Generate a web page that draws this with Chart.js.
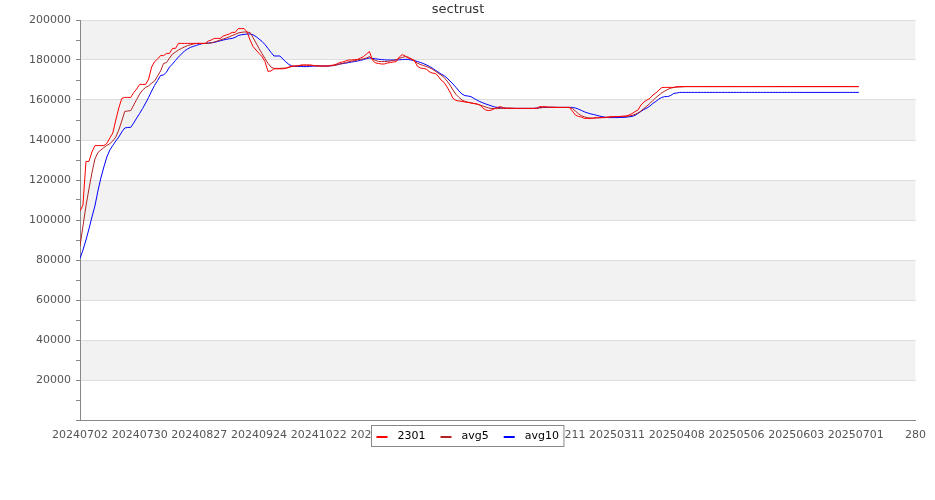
<!DOCTYPE html>
<html>
<head>
<meta charset="utf-8">
<script src="https://cdn.jsdelivr.net/npm/chart.js@4/dist/chart.umd.min.js"></script>
<style>
  html, body { margin: 0; padding: 0; background: #fff; }
  #chart { display: block; }
</style>
</head>
<body>
<canvas id="chart" width="935" height="500"></canvas>
<script>
// x axis: one tick every 20 trading days
const xLabels = ['20240702', '20240730', '20240827', '20240924', '20241022', '20241119', '20241217',
                 '20250114', '20250211', '20250311', '20250408', '20250506', '20250603', '20250701'];

const seriesNames = ['2301', 'avg5', 'avg10'];

const s2301 = [
  104500, 107500, 129300, 129300, 134000, 137200, 137200, 137200, 137200, 138300,
  141000, 143500, 150000, 156000, 160800, 161300, 161300, 161300, 163700, 165500,
  167800, 167800, 167800, 170500, 176500, 179200, 180500, 182200, 182200, 183300,
  183300, 185800, 185800, 188300, 188300, 188300, 188300, 188300, 188300, 188300,
  188300, 188300, 188300, 189500, 190000, 190800, 190800, 190800, 192000, 192500,
  193000, 193800, 193800, 195700, 195700, 195700, 194000, 190000, 186700, 185000,
  183300, 181700, 179200, 174300, 174500, 175600, 175600, 175600, 175600, 175800,
  176500, 177000, 177000, 177000, 177500, 177500, 177500, 177500, 177300, 177000,
  177000, 177000, 177000, 177000, 177300, 177500, 178000, 178700, 179000, 179500,
  180000, 180000, 180200, 180300, 181000, 181700, 183000, 184200, 180000, 178500,
  178300, 178000, 178000, 178500, 178700, 179000, 179200, 181500, 182700, 182000,
  181000, 180500, 180000, 177000, 176000, 175800, 175500, 174200, 173500, 173300,
  172000, 170000, 168800, 166500, 164000, 160800, 159800, 159500, 159300, 159000,
  158800, 158500, 158200, 158000, 157500, 156000, 155000, 154700, 155000, 155800,
  156300, 156700, 156000, 155800, 155800, 155800, 155800, 155800, 155800, 155800,
  155800, 155800, 155800, 155800, 156700, 156700, 156700, 156300, 156300, 156300,
  156300, 156300, 156300, 156300, 156300, 154500, 152500, 151800, 151500, 150800,
  150800, 150700, 151000, 151200, 151200, 151200, 151200, 151500, 151700, 151700,
  151700, 151800, 151900, 152000, 152500, 153200, 154200, 155000, 157500, 159000,
  160000, 160800, 162500, 163500, 165000, 166200, 166300, 166300, 166300, 166300,
  166700, 166700, 166700, 166700, 166700, 166700, 166700, 166700, 166700, 166700,
  166700, 166700, 166700, 166700, 166700, 166700, 166700, 166700, 166700, 166700,
  166700, 166700, 166700, 166700, 166700, 166700, 166700, 166700, 166700, 166700,
  166700, 166700, 166700, 166700, 166700, 166700, 166700, 166700, 166700, 166700,
  166700, 166700, 166700, 166700, 166700, 166700, 166700, 166700, 166700, 166700,
  166700, 166700, 166700, 166700, 166700, 166700, 166700, 166700, 166700, 166700,
  166700, 166700
];

const avg5 = [
  87000, 97000, 107000, 115500, 123500, 130500, 133700, 135000, 136200, 137300,
  138200, 139500, 141500, 145000, 149500, 154300, 154500, 154700, 157500, 160300,
  163000, 165000, 166300, 167000, 168500, 169500, 172000, 174500, 178300, 178700,
  181000, 183000, 184000, 185000, 185800, 186500, 187200, 187600, 188000, 188300,
  188300, 188300, 188300, 188300, 188600, 189000, 189500, 190000, 190500, 191000,
  191600, 192200, 192800, 193500, 193800, 194000, 194000, 193700, 191200, 188500,
  185700, 183200, 180700, 178300, 176500, 175800, 175800, 175800, 175900, 176000,
  176300, 176700, 177000, 177200, 177300, 177400, 177400, 177400, 177300, 177200,
  177100, 177000, 177000, 177000, 177100, 177200, 177500, 177900, 178300, 178700,
  179100, 179400, 179700, 180000, 180300, 180600, 181000, 181700, 180500, 179800,
  179300, 179200, 179200, 179300, 179500, 179800, 180200, 180800, 181300, 181700,
  181400, 180600, 179500, 178500, 177800, 177300, 176800, 176200, 175500, 174500,
  173400, 172500, 171300, 169500, 167500, 165000, 162800, 161300, 160000, 159300,
  158900, 158600, 158300, 158000, 157500, 157000, 156500, 156000, 155800, 155700,
  155700, 155800, 155900, 156000, 156000, 155900, 155800, 155800, 155800, 155800,
  155800, 155800, 155800, 155800, 156000, 156200, 156400, 156500, 156500, 156400,
  156300, 156300, 156300, 156300, 156300, 155800, 154500, 153200, 152200, 151600,
  151200, 151000, 150900, 151000, 151100, 151200, 151300, 151400, 151500, 151600,
  151700, 151700, 151800, 151800, 152000, 152300, 152800, 153500, 154500, 155800,
  157000, 158300, 159800, 161200, 162400, 163600, 164500, 165300, 165900, 166300,
  166400, 166500, 166600, 166700, 166700, 166700, 166700, 166700, 166700, 166700,
  166700, 166700, 166700, 166700, 166700, 166700, 166700, 166700, 166700, 166700,
  166700, 166700, 166700, 166700, 166700, 166700, 166700, 166700, 166700, 166700,
  166700, 166700, 166700, 166700, 166700, 166700, 166700, 166700, 166700, 166700,
  166700, 166700, 166700, 166700, 166700, 166700, 166700, 166700, 166700, 166700,
  166700, 166700, 166700, 166700, 166700, 166700, 166700, 166700, 166700, 166700,
  166700, 166700
];

const avg10 = [
  80800, 85000, 90000, 95500, 101500, 107000, 114500, 121000, 126500, 131500,
  135000, 137300, 139500, 141500, 144000, 146000, 146300, 146300, 148500, 151000,
  153300, 155800, 158500, 161300, 164500, 167300, 169700, 172300, 172500, 174000,
  176500, 178000, 179800, 181500, 183000, 184500, 185500, 186300, 186800, 187300,
  187800, 188200, 188300, 188500, 188600, 188800, 189200, 189600, 190000, 190300,
  190600, 190800, 191300, 192200, 192600, 192800, 193000, 193000, 192600, 191700,
  190500, 189300, 187700, 185800, 183800, 182000, 182000, 182000, 180500, 179000,
  177800, 177000, 176800, 176800, 176800, 176700, 176700, 176800, 176900, 177000,
  177000, 177000, 177000, 177000, 177100, 177300, 177600, 178000, 178200, 178400,
  178700, 179000, 179200, 179500, 179800, 180200, 180700, 181000, 180800, 180600,
  180400, 180200, 180100, 180000, 180000, 180000, 180000, 180100, 180200, 180300,
  180300, 180000, 179700, 179300, 178800, 178300, 177600, 176900, 176000, 175000,
  174000, 173000, 172200, 171000, 169500, 168000, 166300, 164500, 163000, 162200,
  162000, 161700, 160800, 160000, 159200, 158600, 158000, 157500, 157000, 156500,
  156300, 156100, 156000, 155800, 155800, 155800, 155800, 155800, 155800, 155800,
  155800, 155800, 155800, 156000, 156300, 156300, 156300, 156300, 156300, 156300,
  156300, 156300, 156300, 156300, 156300, 156300, 156000, 155500, 154800, 154100,
  153600, 153100, 152800, 152400, 152000, 151700, 151400, 151200, 151200, 151200,
  151200, 151300, 151300, 151400, 151600, 151800, 152300, 153300, 154300, 155300,
  156000, 157000, 158300, 159300, 160500, 161300, 161700, 161700, 162300, 163300,
  163500, 163800, 163800, 163800, 163800, 163800, 163800, 163800, 163800, 163800,
  163800, 163800, 163800, 163800, 163800, 163800, 163800, 163800, 163800, 163800,
  163800, 163800, 163800, 163800, 163800, 163800, 163800, 163800, 163800, 163800,
  163800, 163800, 163800, 163800, 163800, 163800, 163800, 163800, 163800, 163800,
  163800, 163800, 163800, 163800, 163800, 163800, 163800, 163800, 163800, 163800,
  163800, 163800, 163800, 163800, 163800, 163800, 163800, 163800, 163800, 163800,
  163800, 163800
];

const seriesColors = ['#ff0000', '#b22222', '#0000ff'];
const FONT = 'DejaVu Sans';

const toPoints = arr => arr.map((v, i) => ({ x: i, y: v }));

// grey / white bands every 20000 behind the lines
const bandsPlugin = {
  id: 'bands',
  beforeDraw(chart) {
    const { ctx, chartArea: a, scales: { y } } = chart;
    ctx.save();
    ctx.fillStyle = '#f2f2f2';
    for (let v = 20000; v < 200000; v += 40000) {
      const top = y.getPixelForValue(v + 20000);
      const bot = y.getPixelForValue(v);
      ctx.fillRect(a.left, top, a.right - a.left, bot - top);
    }
    ctx.restore();
  }
};

// boxed legend sitting over the x labels, centred
const boxLegendPlugin = {
  id: 'boxLegend',
  afterDraw(chart) {
    const ctx = chart.ctx;
    const sets = chart.data.datasets;
    ctx.save();
    ctx.font = '11px "' + FONT + '"';
    const sample = 11, gapSample = 10, gapItem = 15, pad = 5;
    let w = pad * 2;
    sets.forEach((ds, i) => {
      w += sample + gapSample + ctx.measureText(ds.label).width;
      if (i < sets.length - 1) w += gapItem;
    });
    const x0 = Math.round(chart.width / 2 - w / 2) + 0.5;
    const y0 = 425.5, h = 21;
    ctx.fillStyle = '#fff';
    ctx.fillRect(x0, y0, w, h);
    ctx.strokeStyle = '#888';
    ctx.lineWidth = 1;
    ctx.strokeRect(x0, y0, w, h);
    let x = x0 + pad;
    const cy = y0 + h / 2;
    sets.forEach(ds => {
      ctx.strokeStyle = ds.borderColor;
      ctx.lineWidth = 2;
      ctx.beginPath();
      ctx.moveTo(x, cy + 1);
      ctx.lineTo(x + sample, cy + 1);
      ctx.stroke();
      x += sample + gapSample;
      ctx.fillStyle = '#000';
      ctx.textBaseline = 'middle';
      ctx.fillText(ds.label, x, cy);
      x += ctx.measureText(ds.label).width + gapItem;
    });
    ctx.restore();
  }
};

new Chart(document.getElementById('chart'), {
  type: 'line',
  data: {
    datasets: [s2301, avg5, avg10].map((arr, i) => ({
      label: seriesNames[i],
      data: toPoints(arr),
      borderColor: seriesColors[i],
      backgroundColor: seriesColors[i],
      borderWidth: 1,
      pointRadius: 0,
      tension: 0,
      fill: false,
    })),
  },
  options: {
    responsive: false,
    animation: false,
    layout: { padding: { left: 0, right: 19, top: 0, bottom: 0 } },
    plugins: {
      legend: { display: false },
      tooltip: { enabled: false },
      title: {
        display: true,
        text: 'sectrust',
        color: '#333',
        font: { family: FONT, size: 13, weight: 'normal', lineHeight: '15px' },
        padding: { top: 2, bottom: 3 },
      },
    },
    scales: {
      x: {
        type: 'linear',
        min: 0,
        max: 280,
        afterFit: s => { s.height = 80; },
        ticks: {
          stepSize: 20,
          autoSkip: false,
          maxRotation: 0,
          padding: 9,
          color: '#555',
          font: { family: FONT, size: 11 },
          callback: v => (v % 20 === 0 && v / 20 < xLabels.length) ? xLabels[v / 20] : String(v),
        },
        grid: { display: true, drawOnChartArea: false, drawTicks: false },
        border: { display: true, color: '#888' },
      },
      y: {
        min: 0,
        max: 200000,
        afterFit: s => { s.width = 80; },
        ticks: {
          stepSize: 10000,
          autoSkip: false,
          padding: 5,
          color: '#555',
          font: { family: FONT, size: 11 },
          callback: v => (v % 20000 === 0 && v !== 0) ? String(v) : '',
        },
        grid: {
          color: c => (c.tick && c.tick.value % 20000 === 0 && c.tick.value !== 0) ? '#dddddd' : 'rgba(0,0,0,0)',
          tickColor: '#888',
          tickLength: 4,
        },
        border: { display: true, color: '#888' },
      },
    },
  },
  plugins: [bandsPlugin, boxLegendPlugin],
});
</script>
</body>
</html>
